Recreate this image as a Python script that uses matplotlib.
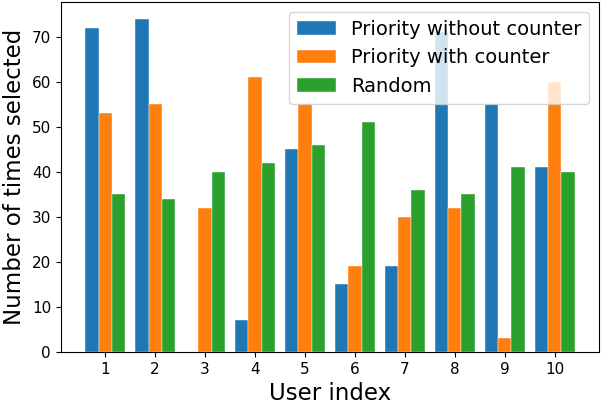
import matplotlib
matplotlib.use('Agg')
import matplotlib.pyplot as plt
import numpy as np

users = [1, 2, 3, 4, 5, 6, 7, 8, 9, 10]
priority_no_counter = [72, 74, 0, 7, 45, 15, 19, 71, 55, 41]
priority_counter = [53, 55, 32, 61, 55, 19, 30, 32, 3, 60]
random_sel = [35, 34, 40, 42, 46, 51, 36, 35, 41, 40]

x = np.array(users)
w = 0.8 / 3

fig, ax = plt.subplots(figsize=(6.02, 4.04), dpi=100)
ax.bar(x - w, priority_no_counter, w, label='Priority without counter', edgecolor='white', linewidth=0.3)
ax.bar(x, priority_counter, w, label='Priority with counter', edgecolor='white', linewidth=0.3)
ax.bar(x + w, random_sel, w, label='Random', edgecolor='white', linewidth=0.3)

ax.set_xticks(x)
ax.set_xticklabels([str(u) for u in users])
ax.tick_params(labelsize=11)
ax.set_xlabel('User index', fontsize=16.5)
ax.set_ylabel('Number of times selected', fontsize=16.5)
ax.legend(loc='upper right', fontsize=14)

fig.subplots_adjust(left=0.101, right=0.995, bottom=0.129, top=0.995)
plt.savefig('out.png')
